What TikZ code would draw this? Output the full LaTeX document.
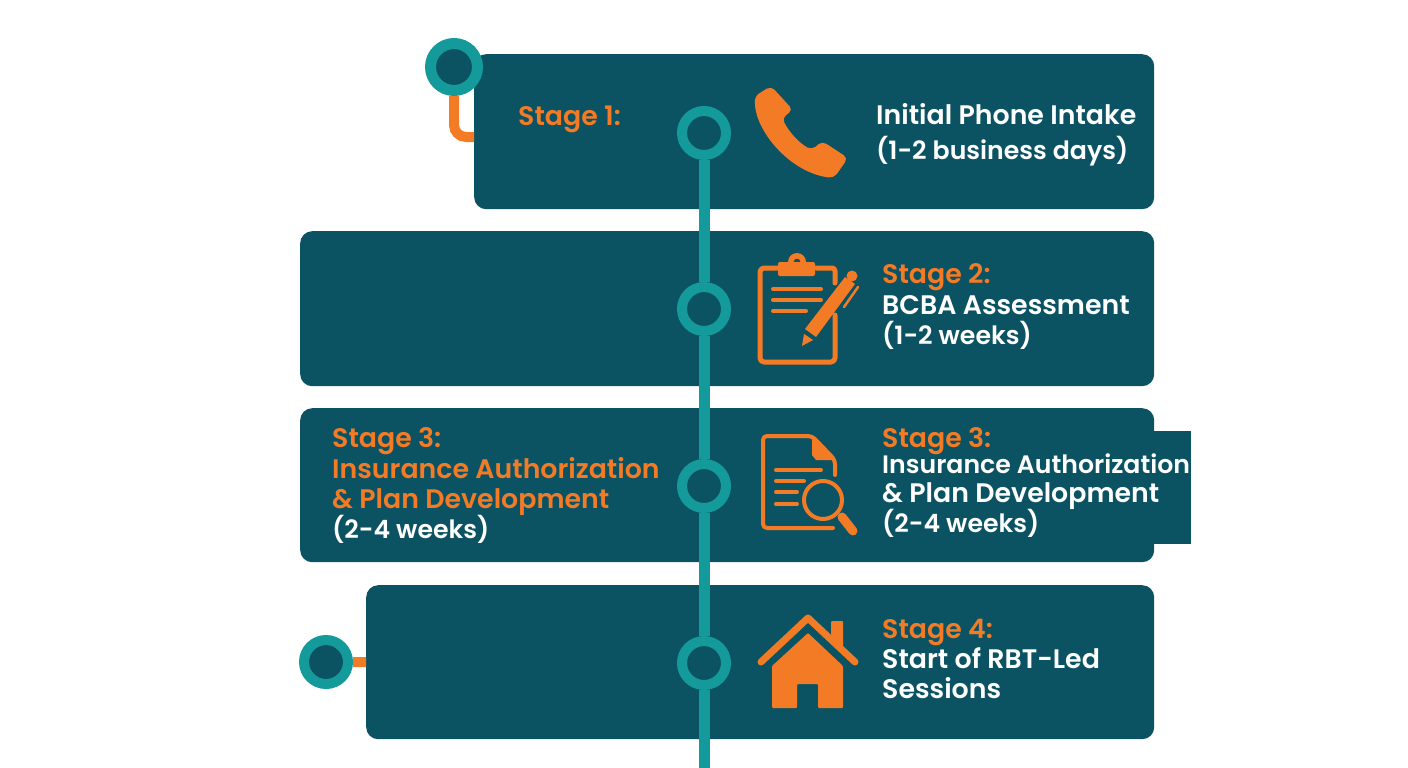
\documentclass[tikz,border=0pt]{standalone}
\usepackage{fontspec}
\setmainfont{Poppins}[BoldFont={Poppins SemiBold}]
\definecolor{mydark}{RGB}{11,83,99}
\definecolor{myteal}{RGB}{20,154,154}
\definecolor{myorange}{RGB}{244,123,38}

\begin{document}
\begin{tikzpicture}[x=1pt,y=-1pt]
	\tikzset{card/.style={fill=mydark,rounded corners=12pt,inner sep=0pt,anchor=north west}}
	\tikzset{ring/.style={draw=myteal,circle,fill=mydark,line width=10pt,inner sep=0pt,minimum size=44pt}}
	\tikzset{spine/.style={draw=myteal,line width=11pt}}
	\tikzset{link/.style={draw=myorange,line width=10pt}}
	\tikzset{stage/.style={anchor=base west,inner sep=0pt,font=\fontsize{26.8}{27}\selectfont\bfseries,text=myorange}}
	\tikzset{info/.style={anchor=base west,inner sep=0pt,font=\fontsize{26.8}{27}\selectfont\bfseries,text=white}}
	\tikzset{dates/.style={info,font=\fontsize{25.2}{25.5}\selectfont\bfseries}}
	\tikzset{iconline/.style={draw=myorange,line width=4pt,line cap=round,line join=round}}
	\tikzset{iconfill/.style={fill=myorange,line join=round}}
	
	\useasboundingbox (0,0) rectangle (1408,768);
	
	\node(tab3) at (1140,431) [fill=mydark,inner sep=0pt,anchor=north west,minimum width=51pt,minimum height=113pt] {};
	
	\node(card1) at (474,54) [card,minimum width=680pt,minimum height=155pt] {};
	\node(card2) at (300,231) [card,minimum width=854pt,minimum height=155pt] {};
	\node(card3) at (300,408) [card,minimum width=854pt,minimum height=154pt] {};
	\node(card4) at (366,585) [card,minimum width=788pt,minimum height=154pt] {};
	
	\node(ring1) at (704,133) [ring] {};
	\node(ring2) at (704,309) [ring] {};
	\node(ring3) at (704,486) [ring] {};
	\node(ring4) at (704,663) [ring] {};
	
	\node(topring) at (454,67) [ring,line width=11pt,minimum size=47pt] {};
	\node(leftring) at (326,662) [ring] {};
	
	\coordinate(spineend) at (704,768);
	\coordinate(toplink) at (474,137);
	
	\draw[spine] (ring1) -- (ring2);
	\draw[spine] (ring2) -- (ring3);
	\draw[spine] (ring3) -- (ring4);
	\draw[spine] (ring4) -- (spineend);
	
	\draw[link,rounded corners=12pt] (topring) |- (toplink);
	\draw[link] (leftring) -- (card4);
	
	\node(stage1) at (518,125) [stage] {Stage 1:};
	\node(phone1) at (876,124) [info] {Initial Phone Intake};
	\node(phone2) at (876,159) [dates] {(1-2 business days)};
	
	\node(stage2) at (882,283) [stage] {Stage 2:};
	\node(bcba1) at (882,314) [info] {BCBA Assessment};
	\node(bcba2) at (882,344) [dates] {(1-2 weeks)};
	
	\node(stage3l) at (332,447) [stage] {Stage 3:};
	\node(auth1l) at (332,478) [stage] {Insurance Authorization};
	\node(auth2l) at (332,508) [stage] {\& Plan Development};
	\node(auth3l) at (332,538) [dates] {(2-4 weeks)};
	
	\node(stage3r) at (882,447) [stage] {Stage 3:};
	\node(auth1r) at (882,473) [dates] {Insurance Authorization};
	\node(auth2r) at (882,502) [info] {\& Plan Development};
	\node(auth3r) at (882,532) [dates] {(2-4 weeks)};
	
	\node(stage4) at (882,638) [stage] {Stage 4:};
	\node(start1) at (882,668) [info] {Start of RBT-Led};
	\node(start2) at (882,698) [info] {Sessions};
	
	% phone
	\fill[iconfill,rounded corners=5pt] (771,86) -- (793,110) -- (782,118) .. controls (789,132) and (799,143) .. (812,150) -- (822,141) -- (848,158) -- (834,178) .. controls (790,173) and (754,130) .. (755,96) -- cycle;
	
	% clipboard
	\draw[iconline,line width=5pt,rounded corners=4pt] (778,268) -- (760,268) -- (760,362) -- (835,362) -- (835,315);
	\draw[iconline,line width=5pt,rounded corners=3pt] (816,268) -- (835,268) -- (835,283);
	\fill[iconfill,rounded corners=2pt] (778,262) rectangle (815,276);
	\fill[iconfill,even odd rule] (797,262) circle (9) (797,262) circle (3.5);
	\draw[iconline] (773,289) -- (821,289);
	\draw[iconline] (773,300) -- (821,300);
	\draw[iconline] (773,311) -- (806,311);
	\fill[iconfill] (805,329) -- (816,337) -- (855,284) -- (845,277) -- cycle;
	\fill[iconfill] (852,276) circle (5.5);
	\draw[iconline,line width=2.5pt] (858,287) -- (844,307);
	\fill[iconfill] (802,346) -- (804,334) -- (813,340) -- cycle;
	
	% document
	\draw[iconline,rounded corners=4pt] (833,528) -- (763,528) -- (763,436) -- (812,436) -- (835,460) -- (835,475);
	\fill[iconfill] (812,436) -- (835,460) -- (816,460) -- (812,455) -- cycle;
	\draw[iconline] (776,470) -- (821,470);
	\draw[iconline] (776,481) -- (804,481);
	\draw[iconline] (776,492) -- (797,492);
	\draw[iconline] (776,504) -- (797,504);
	\draw[iconline] (823,500) circle (19);
	\draw[iconline,line width=9pt] (842,517) -- (853,531);
	
	% house
	\draw[iconline,line width=7pt] (761,662) -- (808,618) -- (855,662);
	\fill[iconfill,rounded corners=1pt] (831,635) -- (831,621) -- (843,621) -- (843,648) -- cycle;
	\fill[iconfill,rounded corners=1pt] (808,633) -- (772,666) -- (772,708) -- (797,708) -- (797,684) -- (818,684) -- (818,708) -- (843,708) -- (843,666) -- cycle;
	
\end{tikzpicture}
\end{document}
